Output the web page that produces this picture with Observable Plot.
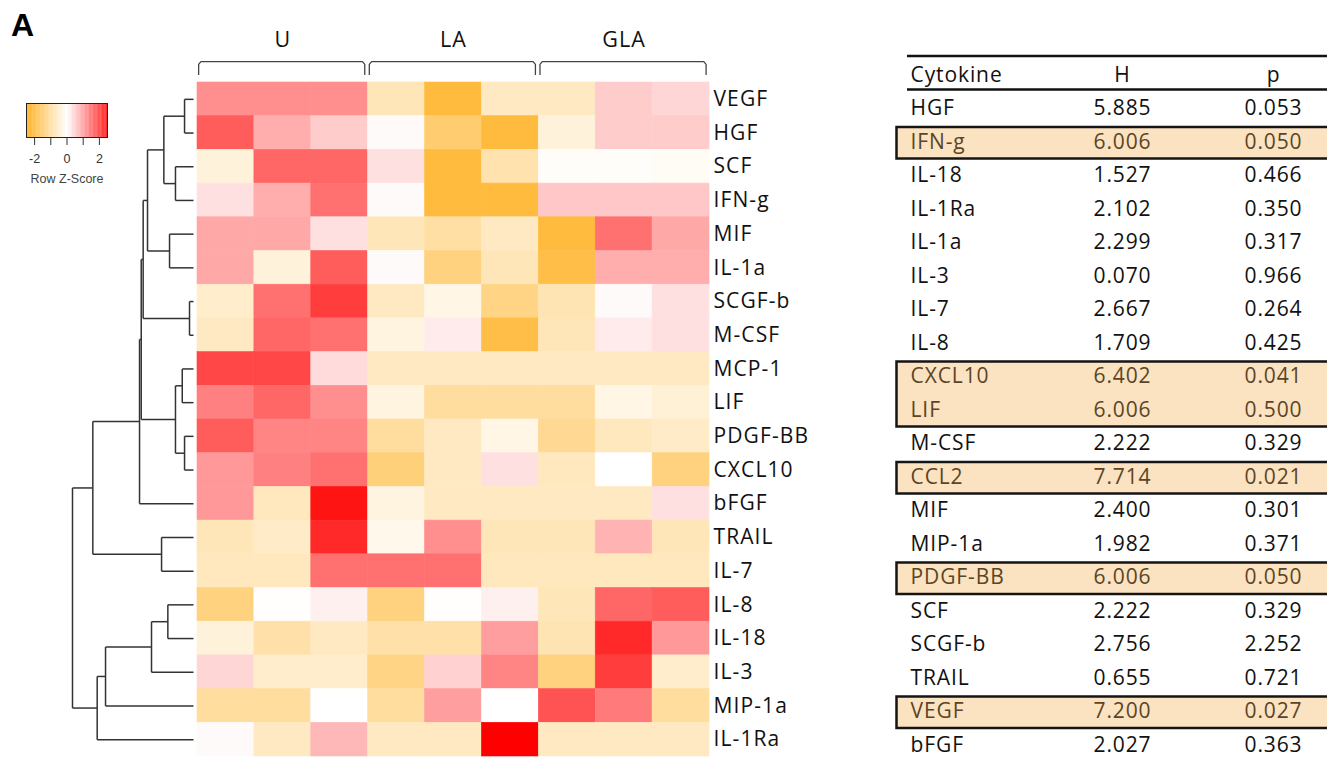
<!DOCTYPE html>
<html><head><meta charset="utf-8">
<script src="https://cdn.jsdelivr.net/npm/d3@7"></script>
<script src="https://cdn.jsdelivr.net/npm/@observablehq/plot@0.6"></script>
<style>
html,body{margin:0;padding:0;background:#fff;overflow:hidden;}
#root{position:relative;width:1327px;height:758px;overflow:hidden;background:#fff;}
#root > *{position:absolute;}
#panel{left:11px;top:7px;font:bold 32px 'Liberation Sans',Arial,sans-serif;color:#000;line-height:36px;}
</style></head><body><div id="root"><div id="panel">A</div></div>
<script>
// ---------- data ----------
const cytokines = ["VEGF","HGF","SCF","IFN-g","MIF","IL-1a","SCGF-b","M-CSF","MCP-1","LIF","PDGF-BB","CXCL10","bFGF","TRAIL","IL-7","IL-8","IL-18","IL-3","MIP-1a","IL-1Ra"];
const samples = ["U1","U2","U3","LA1","LA2","LA3","GLA1","GLA2","GLA3"];
const groups = ["U","LA","GLA"];
const sampleGroup = ["U","U","U","LA","LA","LA","GLA","GLA","GLA"];
const zScores = [
  [1.1,1.1,1.1,-0.7,-1.9,-0.6,-0.6,0.5,0.4],
  [1.6,0.8,0.5,0.05,-1.4,-1.9,-0.35,0.5,0.5],
  [-0.35,1.5,1.5,0.3,-1.9,-0.8,-0.05,-0.05,-0.1],
  [0.3,0.8,1.4,0.05,-1.9,-1.9,0.55,0.55,0.55],
  [0.85,0.85,0.3,-0.7,-0.9,-0.6,-1.9,1.4,0.85],
  [0.85,-0.35,1.6,0.05,-1.25,-0.7,-1.8,0.8,0.8],
  [-0.5,1.4,1.9,-0.6,-0.25,-1.2,-0.75,0.05,0.3],
  [-0.6,1.5,1.4,-0.3,0.2,-1.8,-0.7,0.2,0.3],
  [1.8,1.8,0.35,-0.6,-0.6,-0.6,-0.6,-0.6,-0.6],
  [1.25,1.5,1.1,-0.3,-0.95,-0.95,-0.95,-0.25,-0.4],
  [1.6,1.2,1.2,-0.95,-0.6,-0.25,-1.05,-0.65,-0.55],
  [1.0,1.25,1.4,-1.3,-0.6,0.3,-0.65,0,-1.25],
  [1.0,-0.65,2.3,-0.3,-0.6,-0.6,-0.6,-0.6,0.3],
  [-0.7,-0.55,2.1,-0.2,1.1,-0.7,-0.7,0.75,-0.7],
  [-0.65,-0.65,1.4,1.4,1.4,-0.65,-0.65,-0.65,-0.65],
  [-1.25,-0.02,0.15,-1.25,-0.02,0.15,-0.7,1.5,1.6],
  [-0.35,-0.85,-0.6,-0.85,-0.85,0.95,-0.75,2.1,1.0],
  [0.4,-0.5,-0.5,-1.2,0.45,1.2,-1.25,1.9,-0.5],
  [-0.95,-0.95,0,-0.95,0.95,0,1.7,1.3,-0.95],
  [0.05,-0.6,0.7,-0.6,-0.6,2.5,-0.6,-0.6,-0.6]
];
// dendrogram merges: [left, right, height]; numbers refer to earlier merges
const merges = [
  ["VEGF","HGF",0.74],
  ["SCF","IFN-g",1.49],
  [0,1,2.45],
  ["MIF","IL-1a",1.98],
  [2,3,3.80],
  ["SCGF-b","M-CSF",0.33],
  [4,5,4.16],
  ["MCP-1","LIF",0.93],
  ["PDGF-BB","CXCL10",0.74],
  [7,8,1.49],
  [6,9,4.32],
  [10,"bFGF",4.46],
  ["TRAIL","IL-7",2.64],
  [11,12,8.32],
  ["IL-8","IL-18",2.12],
  [14,"IL-3",3.47],
  [15,"MIP-1a",7.27],
  [16,"IL-1Ra",7.96],
  [13,17,10]
];
const legendTicks = [-2,-1,0,1,2];
const legendLabels = [-2,0,2];
const tableHeader = ["Cytokine","H","p"];
const tableCytokines = ["HGF","IFN-g","IL-18","IL-1Ra","IL-1a","IL-3","IL-7","IL-8","CXCL10","LIF","M-CSF","CCL2","MIF","MIP-1a","PDGF-BB","SCF","SCGF-b","TRAIL","VEGF","bFGF"];
const hValues = [5.885,6.006,1.527,2.102,2.299,0.070,2.667,1.709,6.402,6.006,2.222,7.714,2.400,1.982,6.006,2.222,2.756,0.655,7.200,2.027];
const pValues = [0.053,0.050,0.466,0.350,0.317,0.966,0.264,0.425,0.041,0.500,0.329,0.021,0.301,0.371,0.050,0.329,2.252,0.721,0.027,0.363];
const highlighted = ["IFN-g","CXCL10","LIF","CCL2","PDGF-BB","VEGF"];

// ---------- shared ----------
const root = document.getElementById("root");
function place(el, left, top){ el.style.left = left+"px"; el.style.top = top+"px"; el.style.position="absolute"; root.appendChild(el); }
const colorScale = {type:"linear", domain:[-2.5,0,2.5], range:["#ffa500","#ffffff","#ff0000"], interpolate:"rgb"};
const FONT = "'Open Sans', 'Liberation Sans', sans-serif";
const heatTop = 82, heatBottom = 756, nRows = cytokines.length;
const rowH = (heatBottom - heatTop) / nRows;

// ---------- heatmap ----------
const cells = [];
zScores.forEach((r,i)=>r.forEach((z,j)=>cells.push({row:i, col:j, z, cyto:cytokines[i], sample:samples[j]})));
const groupSpans = groups.map(g=>{
  const idx = sampleGroup.map((s,i)=>s===g?i:-1).filter(i=>i>=0);
  return {g, start: d3.min(idx), end: d3.max(idx)+1};
});
const bracketPts = [];
groupSpans.forEach(({g,start,end})=>{
  const s = start+0.02, e = end-0.06;
  [[s,-0.24],[s,-0.54],[s+0.04,-0.62],[e-0.04,-0.62],[e,-0.54],[e,-0.24]].forEach(([x,y])=>bracketPts.push({g,x,y}));
});
const heat = Plot.plot({
  width: 870, height: 758,
  marginLeft: 197, marginRight: 161, marginTop: 0, marginBottom: 758-heatBottom,
  x: {domain:[0, samples.length], axis:null},
  y: {domain:[-heatTop/rowH, nRows], reverse:true, axis:null},
  color: colorScale,
  style: {fontFamily: FONT, background:"transparent", overflow:"visible", letterSpacing:"1.1px"},
  marks: [
    Plot.rect(cells, {x1:"col", x2:d=>d.col+1, y1:"row", y2:d=>d.row+1, fill:"z", stroke:"z", strokeWidth:0.6}),
    Plot.text(cytokines, {x: samples.length, y:(d,i)=>i+0.5, text:d=>d, textAnchor:"start", dx:4, fontSize:21, fill:"#111"}),
    Plot.text(groupSpans, {x:d=>(d.start+d.end)/2, y:-1.25, text:"g", fontSize:21.5, fill:"#111"}),
    Plot.line(bracketPts, {x:"x", y:"y", z:"g", stroke:"#444", strokeWidth:1.3})
  ]
});
place(heat, 0, 0);

// ---------- dendrogram ----------
const leafIndex = new Map(cytokines.map((c,i)=>[c,i]));
const nodes = [], segs = [];
const info = ref => typeof ref === "string" ? {h:0, y:leafIndex.get(ref)+0.5} : nodes[ref];
merges.forEach(([a,b,h])=>{
  const A = info(a), B = info(b);
  segs.push({x1:A.h, y1:A.y, x2:h, y2:A.y});
  segs.push({x1:B.h, y1:B.y, x2:h, y2:B.y});
  segs.push({x1:h, y1:A.y, x2:h, y2:B.y});
  nodes.push({h, y:(A.y+B.y)/2});
});
const dendro = Plot.plot({
  width: 195, height: 758,
  marginLeft: 72, marginRight: 2, marginTop: heatTop, marginBottom: 758-heatBottom,
  x: {domain:[d3.max(merges,d=>d[2]), 0], axis:null},
  y: {domain:[0, nRows], reverse:true, axis:null},
  style: {background:"transparent", overflow:"visible"},
  marks: [
    Plot.link(segs, {x1:"x1", y1:"y1", x2:"x2", y2:"y2", stroke:"#333", strokeWidth:1.5})
  ]
});
place(dendro, 0, 0);

// ---------- color key ----------
const ramp = d3.range(-2.5, 2.5, 0.05).map(v=>({v}));
const key = Plot.plot({
  width: 130, height: 100,
  marginLeft: 26, marginRight: 23, marginTop: 8, marginBottom: 58,
  x: {domain:[-2.5,2.5], ticks: legendTicks, tickSize: 8, tickPadding: 9, tickFormat: d => legendLabels.includes(d) ? String(d) : "", label:null},
  y: {domain:[0,1], axis:null},
  color: colorScale,
  style: {fontFamily:"'Liberation Sans', Arial, sans-serif", fontSize:"12.5px", color:"#333", background:"transparent", overflow:"visible"},
  marks: [
    Plot.rect(ramp, {x1:"v", x2:d=>d.v+0.051, y1:0, y2:1, fill:"v"}),
    Plot.frame({stroke:"#222", strokeWidth:1}),
    Plot.text(["Row Z-Score"], {x:0, frameAnchor:"bottom", dy:45, text:d=>d, fontSize:12.5, fill:"#444"})
  ]
});
place(key, 0, 95);

// ---------- statistics table ----------
const trows = tableCytokines.map((c,i)=>({c, h:hValues[i], p:pValues[i], row:i+1, hi: highlighted.includes(c)}));
const blocks = [];
trows.forEach(r=>{
  if (!r.hi) return;
  const last = blocks[blocks.length-1];
  if (last && last.end === r.row) last.end = r.row+1; else blocks.push({start:r.row, end:r.row+1});
});
const colX = {Cytokine: 15, H: 227, p: 378};
const txtFill = d => d.hi ? "#5a4526" : "#111";
const FS = 21;
const table = Plot.plot({
  width: 432, height: 762,
  marginLeft: 0, marginRight: 0, marginTop: 58, marginBottom: 762-58-21*33.5,
  x: {domain:[0,432], axis:null},
  y: {domain:[0, tableCytokines.length+1], reverse:true, axis:null},
  style: {fontFamily: FONT, background:"transparent", overflow:"visible", letterSpacing:"0.9px"},
  marks: [
    Plot.rect(blocks, {x1:1.5, x2:445, y1:"start", y2:"end", fill:"#fbe2c1", stroke:"#151515", strokeWidth:2.5, insetTop:2}),
    Plot.ruleY([0], {x1:12, x2:432, dy:-2.5, stroke:"#111", strokeWidth:2.5}),
    Plot.ruleY([1], {x1:12, x2:432, dy:-2.5, stroke:"#111", strokeWidth:2.5}),
    Plot.text(tableHeader.slice(0,1), {x:d=>colX[d], y:0.5, text:d=>d, textAnchor:"start", fontSize:FS, fill:"#111"}),
    Plot.text(tableHeader.slice(1), {x:d=>colX[d], y:0.5, text:d=>d, textAnchor:"middle", fontSize:FS, fill:"#111"}),
    Plot.text(trows, {x:colX.Cytokine, y:d=>d.row+0.5, text:"c", textAnchor:"start", fontSize:FS, fill:txtFill}),
    Plot.text(trows, {x:colX.H, y:d=>d.row+0.5, text:d=>d.h.toFixed(3), fontSize:FS, fill:txtFill}),
    Plot.text(trows, {x:colX.p, y:d=>d.row+0.5, text:d=>d.p.toFixed(3), fontSize:FS, fill:txtFill})
  ]
});
place(table, 895, 0);
</script></body></html>
